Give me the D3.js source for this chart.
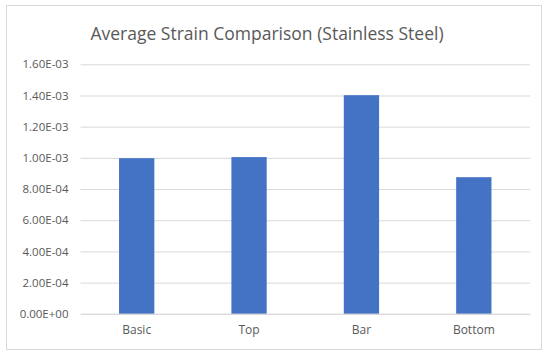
<!DOCTYPE html>
<html>
<head>
<meta charset="utf-8">
<script src="https://cdn.jsdelivr.net/npm/d3@7"></script>
<style>
  html, body { margin: 0; padding: 0; background: #fff; }
  svg { display: block; }
  text { font-family: "Open Sans", "Noto Sans", sans-serif; }
</style>
</head>
<body>
<svg id="chart" width="542" height="351"></svg>
<script>
// Average strain per specimen configuration
const categories = ["Basic", "Top", "Bar", "Bottom"];
const strainValues = [0.000998, 0.001005, 0.001402, 0.000876];
const yTicks = [0, 0.0002, 0.0004, 0.0006, 0.0008, 0.001, 0.0012, 0.0014, 0.0016];
const yTickLabels = ["0.00E+00", "2.00E-04", "4.00E-04", "6.00E-04", "8.00E-04",
                     "1.00E-03", "1.20E-03", "1.40E-03", "1.60E-03"];
const titleText = "Average Strain Comparison (Stainless Steel)";

const svg = d3.select("#chart");
const W = 542, H = 351;
const plot = { left: 80.5, right: 530, top: 64.3, bottom: 313.8 };

// chart frame
svg.append("rect")
  .attr("x", 6.5).attr("y", 5.5)
  .attr("width", W - 7).attr("height", H - 7)
  .attr("fill", "#fff").attr("stroke", "#d9d9d9").attr("stroke-width", 1);

const x = d3.scaleBand()
  .domain(categories)
  .range([plot.left, plot.right])
  .paddingInner(0.686)
  .paddingOuter(0.343);

const y = d3.scaleLinear()
  .domain([0, 0.0016])
  .range([plot.bottom, plot.top]);

// horizontal gridlines with tick labels
const yAxis = d3.axisLeft(y)
  .tickValues(yTicks)
  .tickFormat((d, i) => yTickLabels[i])
  .tickSize(-(plot.right - plot.left))
  .tickPadding(12);

const gy = svg.append("g")
  .attr("transform", `translate(${plot.left},0)`)
  .call(yAxis);
gy.select(".domain").remove();
gy.selectAll(".tick line").attr("stroke", "#d9d9d9").attr("stroke-width", 1);
gy.selectAll(".tick text")
  .attr("fill", "#595959")
  .style("font-size", "11.5px");

// bars
svg.append("g")
  .selectAll("rect")
  .data(strainValues)
  .join("rect")
  .attr("x", (d, i) => x(categories[i]))
  .attr("width", x.bandwidth())
  .attr("y", d => y(d))
  .attr("height", d => y(0) - y(d))
  .attr("fill", "#4472c4");

// category axis
const xAxis = d3.axisBottom(x).tickSize(0).tickPadding(12);
const gx = svg.append("g")
  .attr("transform", `translate(0,${plot.bottom})`)
  .call(xAxis);
gx.select(".domain").attr("stroke", "#d9d9d9");
gx.selectAll(".tick text")
  .attr("fill", "#595959")
  .style("font-size", "12px");

// title, centred on the chart frame
svg.append("text")
  .attr("x", 267)
  .attr("y", 40)
  .attr("text-anchor", "middle")
  .attr("fill", "#595959")
  .style("font-size", "17.5px")
  .text(titleText);
</script>
</body>
</html>
